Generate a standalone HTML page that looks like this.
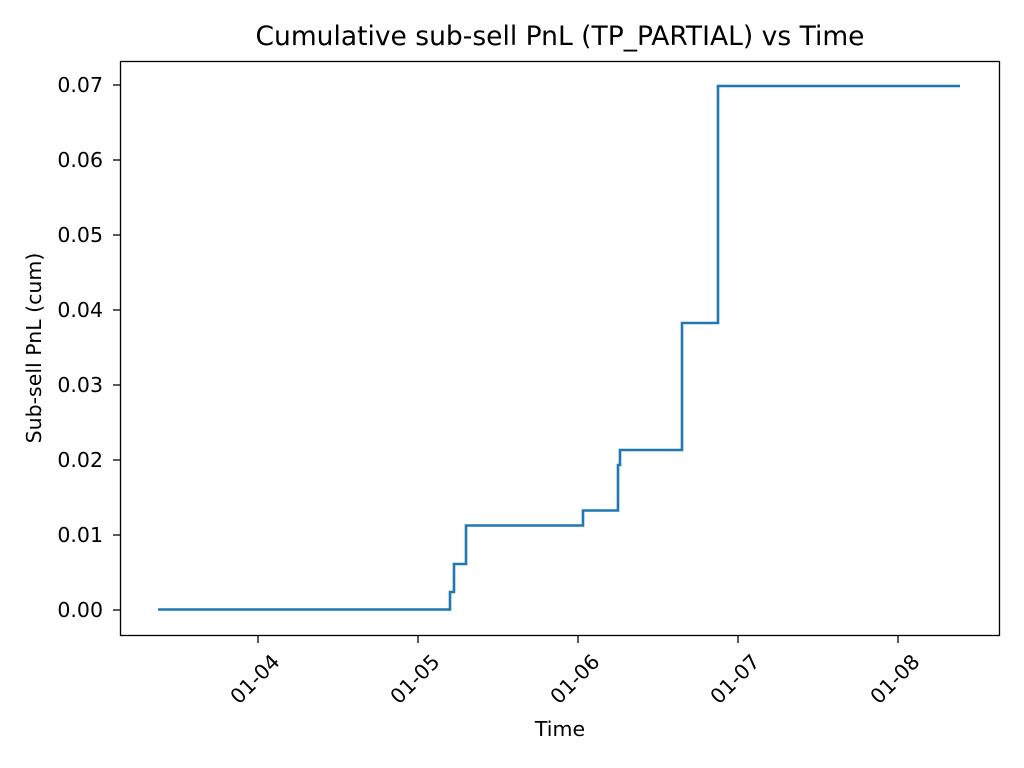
<!DOCTYPE html>
<html><head><style>body{margin:0;background:#fff}svg{display:block}</style></head><body>
<svg width="1024" height="768" xmlns="http://www.w3.org/2000/svg" font-family="'DejaVu Sans','Liberation Sans',sans-serif">
<rect width="1024" height="768" fill="#fff"/>
<text x="560" y="45" font-size="26.7" text-anchor="middle" textLength="609" lengthAdjust="spacingAndGlyphs">Cumulative sub-sell PnL (TP_PARTIAL) vs Time</text>
<polyline fill="none" stroke="#1f77b4" stroke-width="2.6" stroke-linejoin="miter" points="158,609.5 450,609.5 450,592 454,592 454,564 466,564 466,525.5 583,525.5 583,510.5 618,510.5 618,465 620,465 620,450 682,450 682,323 718,323 718,86 960,86"/>
<rect x="120.5" y="61.5" width="879" height="574" fill="none" stroke="#000" stroke-width="1.3"/>
<g font-size="20.5" text-anchor="end">
<g stroke="#000" stroke-width="1.3"><line x1="113" x2="120" y1="610" y2="610"/><line x1="113" x2="120" y1="535" y2="535"/><line x1="113" x2="120" y1="460" y2="460"/><line x1="113" x2="120" y1="385" y2="385"/><line x1="113" x2="120" y1="310" y2="310"/><line x1="113" x2="120" y1="235" y2="235"/><line x1="113" x2="120" y1="160" y2="160"/><line x1="113" x2="120" y1="85" y2="85"/></g>
<text x="103" y="617">0.00</text><text x="103" y="542">0.01</text><text x="103" y="467">0.02</text><text x="103" y="392">0.03</text><text x="103" y="317">0.04</text><text x="103" y="242">0.05</text><text x="103" y="167">0.06</text><text x="103" y="92">0.07</text>
</g>
<g stroke="#000" stroke-width="1.3"><line x1="258" x2="258" y1="636" y2="643"/><line x1="418" x2="418" y1="636" y2="643"/><line x1="578" x2="578" y1="636" y2="643"/><line x1="738" x2="738" y1="636" y2="643"/><line x1="898" x2="898" y1="636" y2="643"/></g>
<g font-size="20.5" text-anchor="end">
<text transform="translate(281,663) rotate(-45)">01-04</text>
<text transform="translate(441,663) rotate(-45)">01-05</text>
<text transform="translate(601,663) rotate(-45)">01-06</text>
<text transform="translate(761,663) rotate(-45)">01-07</text>
<text transform="translate(921,663) rotate(-45)">01-08</text>
</g>
<text x="560" y="736" font-size="20.5" text-anchor="middle">Time</text>
<text transform="translate(41,348) rotate(-90)" font-size="20.5" text-anchor="middle">Sub-sell PnL (cum)</text>
</svg>
</body></html>
